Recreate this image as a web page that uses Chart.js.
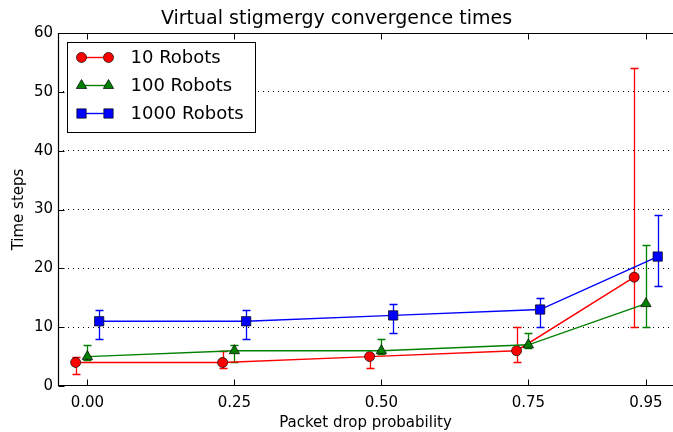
<!DOCTYPE html>
<html>
<head>
<meta charset="utf-8">
<script src="https://cdn.jsdelivr.net/npm/chart.js@4.4.1/dist/chart.umd.min.js"></script>
<style>
  body { margin: 0; background: #fff; }
  #wrap { width: 673px; height: 432px; }
</style>
</head>
<body>
<div id="wrap"><canvas id="conv-chart"></canvas></div>
<script>
// packet drop probabilities (tick positions)
var probTicks = [0.00, 0.25, 0.50, 0.75, 0.95];

// x positions of each series (slightly shifted around each probability)
var x10 = [-0.02, 0.23, 0.48, 0.73, 0.93];
var x100 = [0.00, 0.25, 0.50, 0.75, 0.95];
var x1000 = [0.02, 0.27, 0.52, 0.77, 0.97];

// mean convergence time + error bar low / high
var robots10 = [4, 4, 5, 6, 18.5];
var robots10Lo = [2, 3, 3, 4, 10];
var robots10Hi = [5, 6, 5.5, 10, 54];

var robots100 = [5, 6, 6, 7, 14];
var robots100Lo = [4.5, 4, 5.5, 6.5, 10];
var robots100Hi = [7, 7, 8, 9, 24];

var robots1000 = [11, 11, 12, 13, 22];
var robots1000Lo = [8, 8, 9, 10, 17];
var robots1000Hi = [13, 13, 14, 15, 29];

var FONT = "'DejaVu Sans', sans-serif";

function pts(xs, ys) {
  return xs.map(function (x, i) { return { x: x, y: ys[i] }; });
}

function series(label, xs, ys, lo, hi, color, style, radius, order) {
  return {
    label: label,
    data: pts(xs, ys),
    lo: lo,
    hi: hi,
    order: order,
    borderColor: color,
    backgroundColor: color,
    borderWidth: 1.4,
    pointStyle: style,
    pointRadius: radius,
    pointBorderColor: '#000',
    pointBorderWidth: 0.7,
    pointBackgroundColor: color,
    tension: 0,
    fill: false
  };
}

// error bars, drawn through the chart's own scales
var errorBars = {
  id: 'errorBars',
  beforeDatasetsDraw: function (chart) {
    var ctx = chart.ctx, xs = chart.scales.x, ys = chart.scales.y;
    ctx.save();
    chart.data.datasets.forEach(function (ds) {
      ctx.strokeStyle = ds.borderColor;
      ctx.lineWidth = 1.3;
      ds.data.forEach(function (p, i) {
        var px = Math.round(xs.getPixelForValue(p.x)) + 0.5;
        var top = Math.round(ys.getPixelForValue(ds.hi[i])) + 0.5;
        var bot = Math.round(ys.getPixelForValue(ds.lo[i])) + 0.5;
        ctx.beginPath();
        ctx.moveTo(px, top); ctx.lineTo(px, bot);
        ctx.moveTo(px - 4, top); ctx.lineTo(px + 4, top);
        ctx.moveTo(px - 4, bot); ctx.lineTo(px + 4, bot);
        ctx.stroke();
      });
    });
    ctx.restore();
  }
};

// axes frame (right side falls off the canvas) with inward ticks, plus boxed legend
var frame = {
  id: 'frame',
  afterDatasetsDraw: function (chart) {
    var ctx = chart.ctx, a = chart.chartArea;
    var xs = chart.scales.x, ys = chart.scales.y;
    var L = Math.round(a.left) + 0.5, R = Math.round(a.right) + 2;
    var T = Math.round(a.top) + 0.5, B = Math.round(a.bottom) - 0.5;
    ctx.save();
    ctx.strokeStyle = '#000';
    ctx.lineWidth = 1;
    ctx.beginPath();
    xs.ticks.forEach(function (t) {
      var px = Math.round(xs.getPixelForValue(t.value)) + 0.5;
      ctx.moveTo(px, B); ctx.lineTo(px, B - 6);
      ctx.moveTo(px, T); ctx.lineTo(px, T + 6);
    });
    ys.ticks.forEach(function (t) {
      var py = Math.round(ys.getPixelForValue(t.value)) + 0.5;
      ctx.moveTo(L, py); ctx.lineTo(L + 6, py);
    });
    ctx.stroke();
    ctx.lineWidth = 1.2;
    ctx.beginPath();
    ctx.moveTo(R, T); ctx.lineTo(L, T); ctx.lineTo(L, B); ctx.lineTo(R, B);
    ctx.stroke();

    // legend
    var lx = L + 9, ly = T + 9, lw = 188, lh = 90;
    ctx.fillStyle = '#fff';
    ctx.fillRect(lx, ly, lw, lh);
    ctx.lineWidth = 1;
    ctx.strokeRect(lx, ly, lw, lh);
    chart.data.datasets.forEach(function (ds, i) {
      var cy = ly + 15 + i * 28;
      var x1 = lx + 14, x2 = lx + 41;
      ctx.strokeStyle = ds.borderColor;
      ctx.lineWidth = ds.borderWidth;
      ctx.beginPath(); ctx.moveTo(x1, cy); ctx.lineTo(x2, cy); ctx.stroke();
      [x1, x2].forEach(function (mx) {
        ctx.fillStyle = ds.pointBackgroundColor;
        ctx.strokeStyle = '#000';
        ctx.lineWidth = ds.pointBorderWidth;
        Chart.helpers.drawPoint(ctx, {
          pointStyle: ds.pointStyle, radius: ds.pointRadius, rotation: 0,
          borderWidth: ds.pointBorderWidth
        }, mx, cy);
      });
      ctx.fillStyle = '#000';
      ctx.font = '18px ' + FONT;
      ctx.textBaseline = 'middle';
      ctx.textAlign = 'left';
      ctx.fillText(ds.label, lx + 63, cy + 1);
    });
    ctx.restore();
  }
};

new Chart(document.getElementById('conv-chart'), {
  type: 'line',
  data: {
    datasets: [
      series('10 Robots', x10, robots10, robots10Lo, robots10Hi, '#ff0000', 'circle', 5, 3),
      series('100 Robots', x100, robots100, robots100Lo, robots100Hi, '#008000', 'triangle', 6, 2),
      series('1000 Robots', x1000, robots1000, robots1000Lo, robots1000Hi, '#0000ff', 'rect', 6.6, 1)
    ]
  },
  plugins: [errorBars, frame],
  options: {
    responsive: true,
    maintainAspectRatio: false,
    animation: false,
    layout: { autoPadding: false, padding: 0 },
    plugins: {
      legend: { display: false },
      tooltip: { enabled: false },
      title: {
        display: true,
        text: 'Virtual stigmergy convergence times',
        color: '#000',
        font: { family: FONT, size: 19, weight: 'normal', lineHeight: 1.2 },
        padding: { top: 8, bottom: 2.2 }
      }
    },
    scales: {
      x: {
        type: 'linear',
        min: -0.05,
        max: 0.996,
        afterBuildTicks: function (scale) {
          scale.ticks = probTicks.map(function (v) { return { value: v }; });
        },
        afterFit: function (scale) {
          scale.height = 46;
          scale.paddingLeft = 0;
          scale.paddingRight = 0;
        },
        grid: { display: false, drawTicks: false },
        border: { display: false },
        ticks: {
          color: '#000',
          padding: 8,
          maxRotation: 0,
          font: { family: FONT, size: 15 },
          callback: function (v) { return Number(v).toFixed(2); }
        },
        title: {
          display: true,
          text: 'Packet drop probability',
          color: '#000',
          font: { family: FONT, size: 15 },
          padding: { top: 0, bottom: 0 }
        }
      },
      y: {
        min: 0,
        max: 60,
        afterFit: function (scale) {
          scale.width = 58;
          scale.paddingTop = 0;
          scale.paddingBottom = 0;
        },
        grid: {
          drawTicks: false,
          lineWidth: 1,
          color: function (c) {
            return (c.tick && (c.tick.value === 0 || c.tick.value === 60)) ? 'rgba(0,0,0,0)' : '#000';
          }
        },
        border: { display: false, dash: [1, 4] },
        ticks: {
          stepSize: 10,
          color: '#000',
          padding: 5,
          font: { family: FONT, size: 15 }
        },
        title: {
          display: true,
          text: 'Time steps',
          color: '#000',
          font: { family: FONT, size: 15 },
          padding: { top: 10, bottom: 0 }
        }
      }
    }
  }
});
</script>
</body>
</html>
